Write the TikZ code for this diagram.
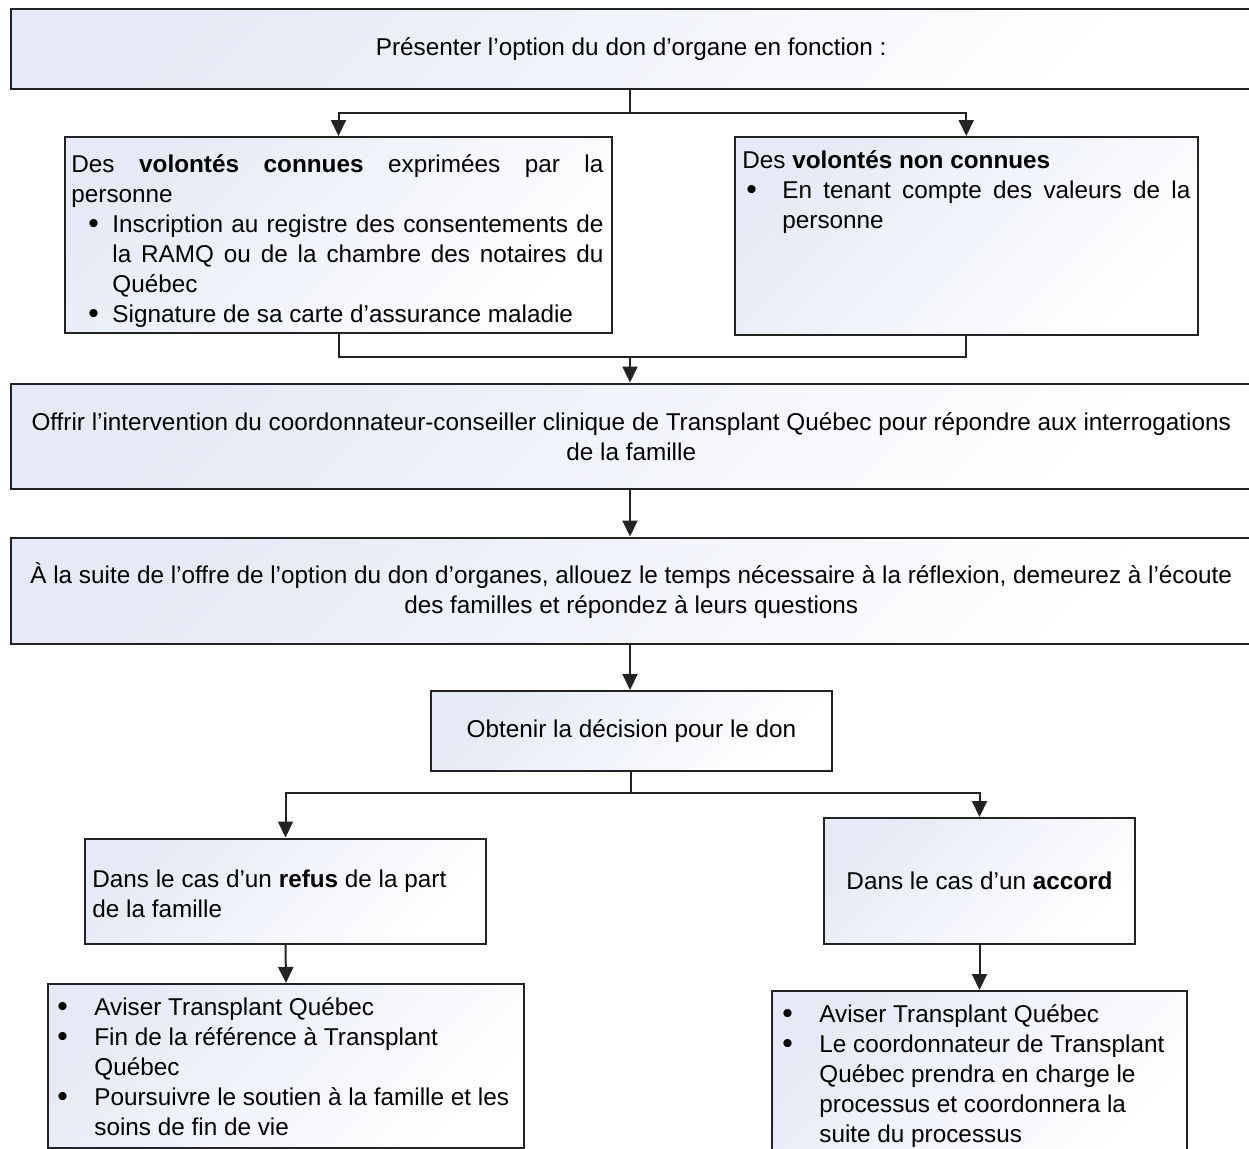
\documentclass[tikz,border=0pt]{standalone}
\usepackage{fontspec}
\setmainfont{Liberation Sans}
\usetikzlibrary{arrows.meta}
\definecolor{boxA}{RGB}{229,234,246}
\definecolor{boxB}{RGB}{255,255,255}
\definecolor{edge}{RGB}{35,35,35}
\newcommand\blt{\raisebox{-0.8pt}{\fontsize{15}{15}\selectfont •}}
\begin{document}
\begin{tikzpicture}[x=0.5pt,y=-0.5pt,
  box/.style={draw=edge, line width=1pt, top color=boxA, bottom color=boxB, shading angle=45,
    inner sep=0pt, anchor=north west, align=center, font=\fontsize{12.15}{15}\selectfont},
  conn/.style={draw=edge, line width=1pt},
  arr/.style={conn, -{Triangle[length=8pt,width=7.5pt]}},
  txt/.style={inner sep=0pt, anchor=base west, font=\fontsize{12.15}{15}\selectfont},
]
\useasboundingbox (0,0) rectangle (1249,1148);

% boxes
\node[box, minimum width=620.75pt, minimum height=40pt] (top) at (9.5,8)
  {Présenter l’option du don d’organe en fonction :};
\node[box, minimum width=273.5pt, minimum height=98pt] (L) at (64,136) {};
\node[box, minimum width=231.75pt, minimum height=99pt] (R) at (733.5,136) {};
\node[box, minimum width=620.75pt, minimum height=52.75pt] (b3) at (9.5,382.5)
  {Offrir l’intervention du coordonnateur-conseiller clinique de Transplant Québec pour répondre aux interrogations\\de la famille};
\node[box, minimum width=620.75pt, minimum height=53.25pt] (b4) at (9.5,536.5)
  {À la suite de l’offre de l’option du don d’organes, allouez le temps nécessaire à la réflexion, demeurez à l’écoute\\des familles et répondez à leurs questions};
\node[box, minimum width=200.5pt, minimum height=40pt] (obt) at (430,690)
  {Obtenir la décision pour le don};
\node[box, minimum width=200.5pt, minimum height=52.75pt] (refus) at (84,837.5) {};
\node[box, minimum width=155.5pt, minimum height=63pt] (accord) at (823,817)
  {Dans le cas d’un \textbf{accord}};
\node[box, minimum width=238pt, minimum height=81.75pt] (BL) at (47,983) {};
\node[box, minimum width=207.5pt, minimum height=82.5pt] (BR) at (771,990) {};

% texts
\node[txt] (Ltxt) at (71,172) {\parbox[t]{270pt}{%
\makebox[266pt][s]{Des \textbf{volontés connues} exprimées par la}\\
personne\\
\hspace*{8.5pt}\makebox[12pt][l]{\blt}\makebox[245.5pt][s]{Inscription au registre des consentements de}\\
\hspace*{20.5pt}\makebox[245.5pt][s]{la RAMQ ou de la chambre des notaires du}\\
\hspace*{20.5pt}Québec\\
\hspace*{8.5pt}\makebox[12pt][l]{\blt}Signature de sa carte d’assurance maladie}};

\node[txt] (Rtxt) at (742,168) {\parbox[t]{228pt}{%
Des \textbf{volontés non connues}\\
\hspace*{2pt}\makebox[18pt][l]{\blt}\makebox[204pt][s]{En tenant compte des valeurs de la}\\
\hspace*{20pt}personne}};

\node[txt] (refustxt) at (92,887) {\parbox[t]{200pt}{%
Dans le cas d’un \textbf{refus} de la part\\
de la famille}};

\node[txt] (BLtxt) at (57,1015) {\parbox[t]{240pt}{%
\makebox[18.5pt][l]{\blt}Aviser Transplant Québec\\
\makebox[18.5pt][l]{\blt}Fin de la référence à Transplant\\
\hspace*{18.5pt}Québec\\
\makebox[18.5pt][l]{\blt}Poursuivre le soutien à la famille et les\\
\hspace*{18.5pt}soins de fin de vie}};

\node[txt] (BRtxt) at (782,1022) {\parbox[t]{210pt}{%
\makebox[18.5pt][l]{\blt}Aviser Transplant Québec\\
\makebox[18.5pt][l]{\blt}Le coordonnateur de Transplant\\
\hspace*{18.5pt}Québec prendra en charge le\\
\hspace*{18.5pt}processus et coordonnera la\\
\hspace*{18.5pt}suite du processus}};

% connectors
\coordinate (f1) at (630,112.5);
\coordinate (m1) at (630,357);
\coordinate (f2) at (630.5,793);
\draw[conn] (top.south -| f1) -- (f1);
\draw[arr] (f1) -| (L.north);
\draw[arr] (f1) -| (R.north);
\draw[conn] (L.south) |- (m1);
\draw[conn] (R.south) |- (m1);
\draw[arr] (m1) -- (b3.north -| m1);
\draw[arr] (b3.south -| m1) -- (b4.north -| m1);
\draw[arr] (b4.south -| m1) -- (obt.north -| m1);
\draw[conn] (obt.south -| f2) -- (f2);
\draw[arr] (f2) -| (refus.north);
\draw[arr] (f2) -| (accord.north);
\draw[arr] (refus.south) -- (BL.north);
\draw[arr] (accord.south) -- (BR.north);
\end{tikzpicture}
\end{document}
